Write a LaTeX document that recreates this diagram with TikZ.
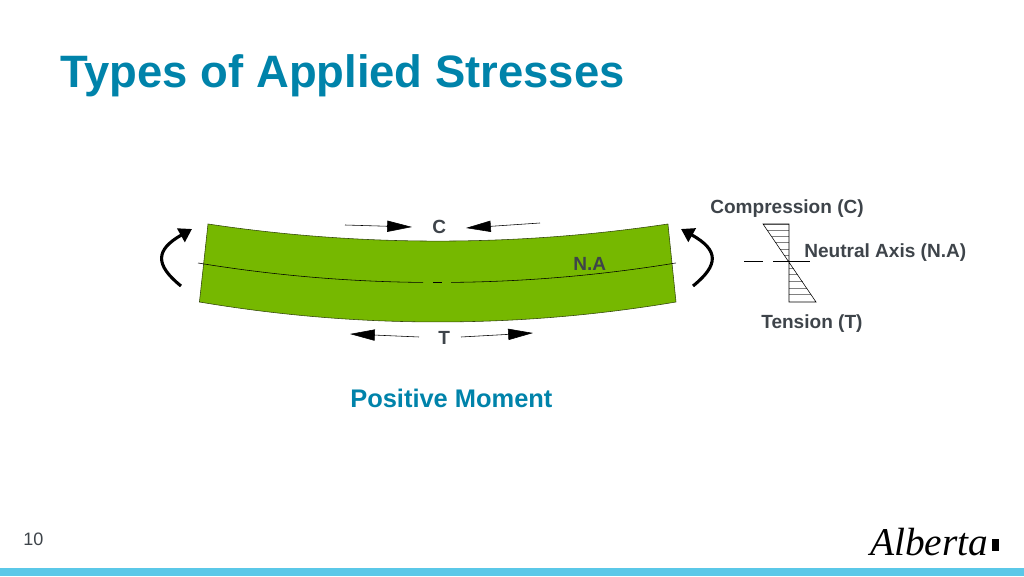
\documentclass[tikz,border=0pt]{standalone}
\usepackage{fontspec}
\setmainfont{Liberation Sans}
\newfontfamily\logofont{Liberation Serif}
\usetikzlibrary{arrows.meta}
\definecolor{titleblue}{RGB}{0,131,170}
\definecolor{beamgreen}{RGB}{118,184,0}
\definecolor{edgegreen}{RGB}{50,70,10}
\definecolor{labelgray}{RGB}{62,68,74}
\definecolor{barblue}{RGB}{91,200,232}
\tikzset{
	label/.style={anchor=base west,inner sep=0pt,text=labelgray,font=\fontsize{13.55}{16}\selectfont\bfseries},
	force/.style={thin,-{Triangle[length=0.62cm,width=0.28cm]}},
	moment/.style={line width=2.2pt,-{Triangle[length=0.32cm,width=0.38cm]}}
}

\begin{document}
\begin{tikzpicture}
	\useasboundingbox (0,0) rectangle (25.6,14.4);
	\fill [barblue] (0,0) rectangle (25.6,0.2);

	\node [anchor=base west,inner sep=0pt,text=titleblue,font=\fontsize{32.3}{38}\selectfont\bfseries] (title) at (1.5,12.2) {Types of Applied Stresses};

	\filldraw [fill=beamgreen,draw=edgegreen,thin] (5.2,8.8) arc (261.5:278.5:38.9) -- (16.9,6.85) arc (279.58:260.42:35.8) -- cycle;
	\draw (4.95,7.825) arc (260.67:269.456:36.86);
	\draw (10.825,7.34) arc (269.844:270.194:36.86);
	\draw (11.275,7.34) arc (270.544:279.33:36.86);

	\node [label] (na) at (14.325,7.625) {N.A};
	\node [label] (cforce) at (10.8,8.55) {C};
	\node [label] (tforce) at (10.95,5.775) {T};

	\coordinate (cleftstart) at (8.625,8.775);
	\coordinate (cleftend) at (10.3,8.725);
	\coordinate (crightstart) at (13.5,8.825);
	\coordinate (crightend) at (11.65,8.7);
	\coordinate (tleftstart) at (10.475,5.975);
	\coordinate (tleftend) at (8.75,6.05);
	\coordinate (trightstart) at (11.525,5.975);
	\coordinate (trightend) at (13.325,6.075);
	\draw [force] (cleftstart) -- (cleftend);
	\draw [force] (crightstart) -- (crightend);
	\draw [force] (tleftstart) -- (tleftend);
	\draw [force] (trightstart) -- (trightend);

	\coordinate (mleftstart) at (4.525,7.25);
	\coordinate (mleftend) at (4.8,8.675);
	\coordinate (mrightstart) at (17.325,7.25);
	\coordinate (mrightend) at (17.025,8.675);
	\draw [moment] (mleftstart) .. controls (3.875,7.775) and (3.875,8.15) .. (mleftend);
	\draw [moment] (mrightstart) .. controls (17.975,7.775) and (17.975,8.15) .. (mrightend);

	\draw [gray,very thin] (19.075,8.8) -- (19.725,8.8);
	\foreach \t in {0.17,0.33,0.5,0.67,0.83} {
		\draw [gray,very thin] (19.725-0.65*\t,7.875+0.925*\t) -- (19.725,7.875+0.925*\t);
		\draw [gray,very thin] (19.725,7.875-\t) -- (19.725+0.675*\t,7.875-\t);
	}
	\draw (19.075,8.8) -- (19.725,8.8) -- (19.725,6.85) -- (20.4,6.85) -- cycle;
	\draw [thin,dash pattern=on 0.475cm off 0.25cm on 0.925cm] (18.6,7.875) -- (20.25,7.875);

	\node [label] (compression) at (17.75,9.05) {Compression (C)};
	\node [label] (neutral) at (20.1,7.95) {Neutral Axis (N.A)};
	\node [label] (tension) at (19.025,6.175) {Tension (T)};

	\node [anchor=base west,inner sep=0pt,text=titleblue,font=\fontsize{18.1}{22}\selectfont\bfseries] (moment) at (8.75,4.2) {Positive Moment};
	\node [anchor=base west,inner sep=0pt,text=labelgray,font=\fontsize{12.8}{15}\selectfont] (pagenum) at (0.575,0.775) {10};
	\node [anchor=base west,inner sep=0pt,font=\logofont\itshape\fontsize{28}{32}\selectfont] (logo) at (21.75,0.525) {Alberta};
	\fill (24.8,0.625) rectangle (24.975,0.925);
\end{tikzpicture}
\end{document}
